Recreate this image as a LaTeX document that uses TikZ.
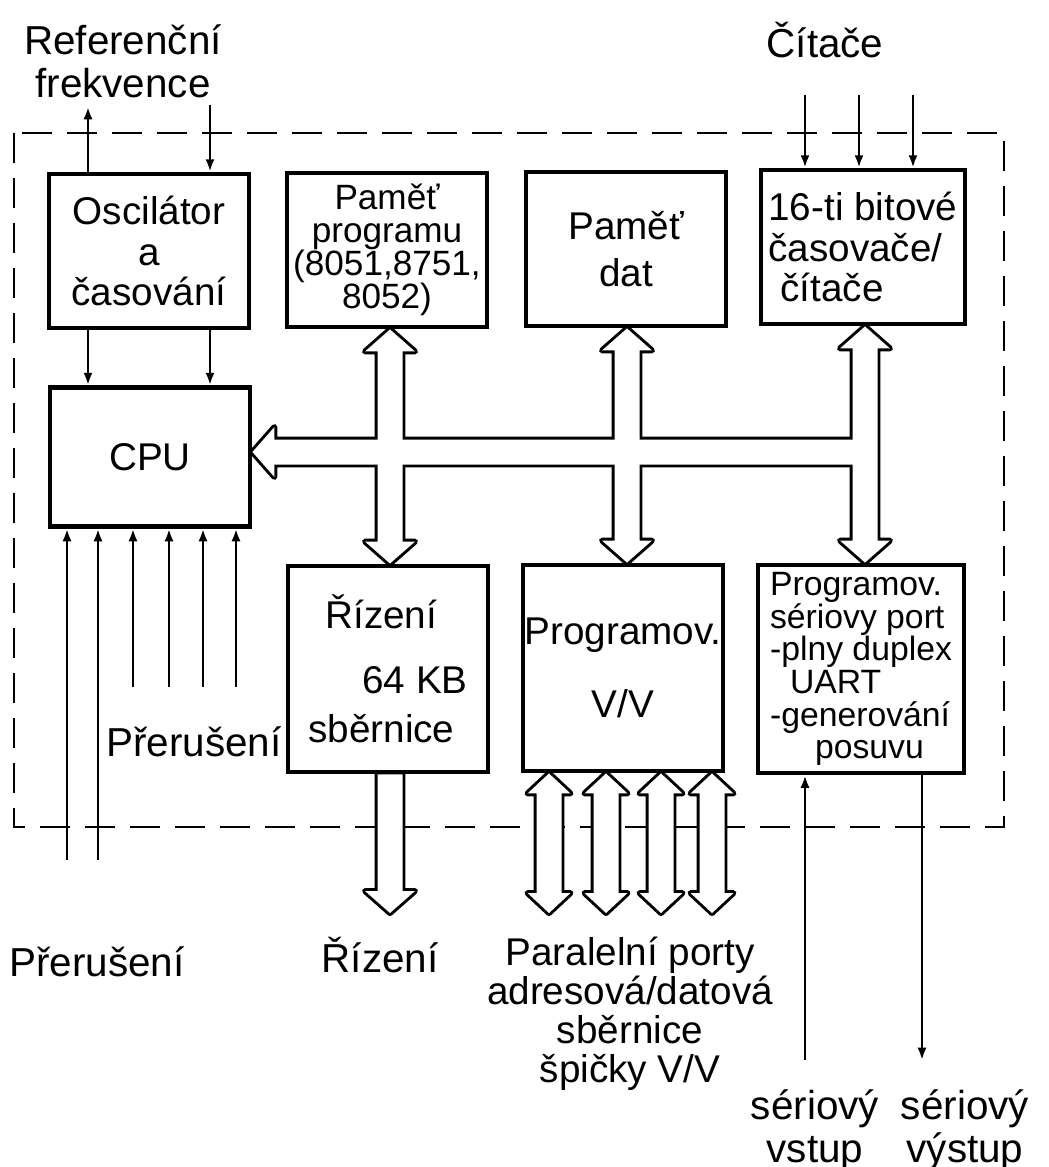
\documentclass[tikz,border=0pt]{standalone}
\usepackage{fontspec}
\setmainfont{Liberation Sans}
\usetikzlibrary{arrows.meta, calc, backgrounds}

\newcommand{\boxfont}{\fontsize{11}{11.4}\selectfont}
\newcommand{\lblfont}{\fontsize{11.5}{12.2}\selectfont}
\def\busW{1.25mm}
\def\busH{2.5mm}
\def\busL{2.2mm}

% hollow bus arrow with heads at both ends
\newcommand{\dblbus}[3]{%
\path[#1] let \p1=(#2), \p2=(#3) in
  (\x1,\y1) -- (\x1+\busH,\y1-\busL) -- (\x1+\busW,\y1-\busL) -- (\x1+\busW,\y2+\busL)
  -- (\x1+\busH,\y2+\busL) -- (\x1,\y2) -- (\x1-\busH,\y2+\busL) -- (\x1-\busW,\y2+\busL)
  -- (\x1-\busW,\y1-\busL) -- (\x1-\busH,\y1-\busL) -- cycle;
}
% hollow bus arrow, head at the lower end
\newcommand{\downbus}[3]{%
\path[#1] let \p1=(#2), \p2=(#3) in
  (\x1-\busW,\y1) -- (\x1+\busW,\y1) -- (\x1+\busW,\y2+\busL) -- (\x1+\busH,\y2+\busL)
  -- (\x1,\y2) -- (\x1-\busH,\y2+\busL) -- (\x1-\busW,\y2+\busL) -- cycle;
}
% hollow bus arrow, head at the left end
\newcommand{\leftbus}[3]{%
\path[#1] let \p1=(#2), \p2=(#3) in
  (\x1,\y1) -- (\x1+\busL,\y1+\busH) -- (\x1+\busL,\y1+\busW) -- (\x2,\y1+\busW)
  -- (\x2,\y1-\busW) -- (\x1+\busL,\y1-\busW) -- (\x1+\busL,\y1-\busH) -- cycle;
}
\newcommand{\allbuses}[1]{%
\leftbus{#1}{cpu.east |- hb}{hb}
\dblbus{#1}{pmem.south -| b1}{rizeni.north -| b1}
\dblbus{#1}{dmem.south -| b2}{vv.north -| b2}
\dblbus{#1}{timers.south -| b3}{serial.north -| b3}
\downbus{#1}{rizeni.south -| b1}{rout}
% parallel ports, slimmer heads
{\def\busH{2.15mm}\def\busL{2mm}%
\foreach \pp in {p1,p2,p3,p4}{\dblbus{#1}{vv.south -| \pp}{\pp}}}
}

\begin{document}
\begin{tikzpicture}[
    x=0.1mm, y=-0.1mm,
    block/.style={draw, line width=1.4pt, fill=white, minimum width=20mm,
      inner sep=0pt, align=center, font=\boxfont},
    sig/.style={line width=0.8pt, -{Latex[length=3.5pt,width=2.6pt]}},
    frame/.style={line width=0.8pt, dash pattern=on 3mm off 1.5mm},
    lbl/.style={align=center, font=\lblfont, inner sep=0pt}
]
\useasboundingbox (0,0) rectangle (1049,1167);

% blocks
\node[block, minimum height=15.4mm] (osc) at (149,251) {Oscilátor\\a\\časování};
\node[block, minimum height=13.9mm] (cpu) at (150,457) {CPU};
\node[block, minimum height=15.4mm, font=\fontsize{10}{9.4}\selectfont] (pmem) at (387,250)
  {Paměť\\programu\\(8051,8751,\\8052)};
\node[block, minimum height=15.4mm] (dmem) at (626,249) {Paměť\\[2pt]dat};
\node[block, minimum height=15.4mm, minimum width=20.4mm, align=left] (timers) at (863,247)
  {16-ti bitové\\časovače/\\\hspace*{1.2mm}čítače};
\node[block, minimum height=20.6mm, align=left] (rizeni) at (388,669)
  {\hspace*{1.7mm}Řízení\\[7pt]\hspace*{5.4mm}64 KB\\[2.6pt]sběrnice};
\node[block, minimum height=20.6mm] (vv) at (623,668) {Programov.\\[9.4pt]V/V};
\node[block, minimum height=20.8mm, minimum width=20.6mm, align=left,
  font=\fontsize{9.6}{9.3}\selectfont] (serial) at (861,669)
  {Programov.\\sériovy port\\-plny duplex\\\hspace*{2mm}UART\\-generování\\\hspace*{4.5mm}posuvu};

% bus coordinates
\coordinate (hb) at (865,452);
\coordinate (b1) at (390,0);
\coordinate (b2) at (627,0);
\coordinate (b3) at (865,0);
\coordinate (rout) at (391,913);
\coordinate (p1) at (549,913);
\coordinate (p2) at (606,913);
\coordinate (p3) at (661,913);
\coordinate (p4) at (712,913);

\begin{pgfonlayer}{background}
\draw[frame] (14,133) rectangle (1004,827);
\allbuses{draw, line width=1.7pt, line join=round}
\allbuses{fill=white}
\end{pgfonlayer}

% reference frequency and clock
\coordinate (ref1) at (88,107);
\coordinate (ref2) at (210,105);
\draw[sig] (osc.north -| ref1) -- (ref1);
\draw[sig] (ref2) -- (osc.north -| ref2);
\draw[sig] (osc.south -| ref1) -- (cpu.north -| ref1);
\draw[sig] (osc.south -| ref2) -- (cpu.north -| ref2);

% interrupts
\foreach \x/\yb [count=\i] in {67/860, 98/860, 133/687, 169/687, 203/687, 236/687}{
  \coordinate (irq\i) at (\x,\yb);
  \draw[sig] (irq\i) -- (cpu.south -| irq\i);
}

% counter inputs
\foreach \x [count=\i] in {805, 859, 913}{
  \coordinate (cnt\i) at (\x,95);
  \draw[sig] (cnt\i) -- (timers.north -| cnt\i);
}

% serial port
\coordinate (sin) at (805,1060);
\coordinate (sout) at (922,1060);
\draw[sig] (sin) -- (serial.south -| sin);
\draw[sig] (serial.south -| sout) -- (sout);

% labels
\node[lbl] (reflbl) at (123,61) {Referenční\\frekvence};
\node[lbl] (cntlbl) at (825,40) {Čítače};
\node[lbl] (irqin) at (194,742) {Přerušení};
\node[lbl] (irqlbl) at (97,962) {Přerušení};
\node[lbl] (ctllbl) at (380,955) {Řízení};
\node[lbl, font=\fontsize{11}{11.1}\selectfont] (portlbl) at (630,1014)
  {Paralelní porty\\adresová/datová\\sběrnice\\špičky V/V};
\node[lbl] (sinlbl) at (815,1130) {sériový\\vstup};
\node[lbl] (soutlbl) at (965,1130) {sériový\\výstup};
\end{tikzpicture}
\end{document}
